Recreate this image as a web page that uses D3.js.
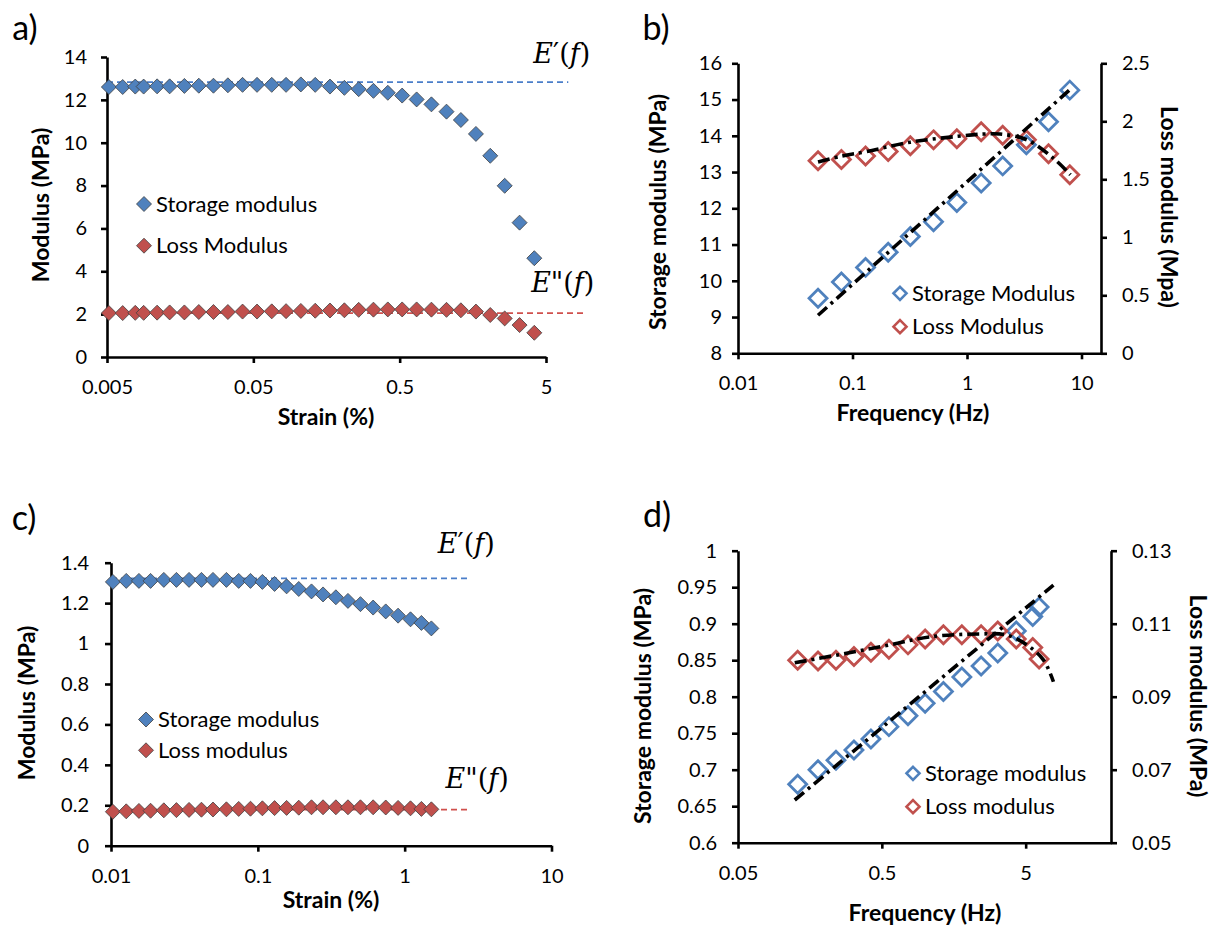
<!DOCTYPE html>
<html>
<head>
<meta charset="utf-8">
<script src="https://cdn.jsdelivr.net/npm/d3@7"></script>
<style>
body { margin: 0; background: #fff; }
text { font-family: Lato, "Open Sans", sans-serif; fill: #000; }
</style>
</head>
<body>
<div id="chart"></div>
<script>
// ---------------- data ----------------
// a) strain sweep, sample 1
const strainA  = [0.00515, 0.0064, 0.0078, 0.0089, 0.011, 0.0134, 0.0169, 0.0212, 0.0267, 0.0335, 0.0422,
                  0.053, 0.0668, 0.0837, 0.1056, 0.1324, 0.167, 0.2095, 0.2625, 0.331, 0.415, 0.52, 0.653,
                  0.824, 1.045, 1.31, 1.66, 2.08, 2.61, 3.30, 4.16]
const storageA = [12.6, 12.6, 12.62, 12.62, 12.63, 12.63, 12.65, 12.66, 12.66, 12.68, 12.7, 12.7, 12.7, 12.7,
                  12.72, 12.7, 12.62, 12.56, 12.5, 12.42, 12.33, 12.2, 12.02, 11.79, 11.45, 11.06, 10.41,
                  9.39, 7.99, 6.27, 4.61]
const lossA    = [2.05, 2.05, 2.06, 2.06, 2.07, 2.08, 2.08, 2.1, 2.1, 2.1, 2.12, 2.12, 2.13, 2.14, 2.15,
                  2.16, 2.17, 2.18, 2.2, 2.21, 2.22, 2.22, 2.22, 2.21, 2.2, 2.18, 2.12, 1.96, 1.8, 1.49, 1.13]
const refLevelA = [12.83, 2.05]
const refEndA   = [7.1, 9.0]

// b) frequency sweep, sample 1
const freqB    = [0.05, 0.08, 0.13, 0.205, 0.32, 0.51, 0.815, 1.33, 2.05, 3.3, 5.15, 7.9]
const storageB = [9.52, 9.97, 10.37, 10.79, 11.22, 11.63, 12.16, 12.7, 13.17, 13.75, 14.39, 15.26]
const lossB    = [1.66, 1.67, 1.70, 1.74, 1.79, 1.84, 1.85, 1.91, 1.88, 1.84, 1.72, 1.54]
const fitStorageB = [[0.05, 9.05], [7.9, 15.27]]
const fitLossB    = [[0.05, 1.65], [0.08, 1.70], [0.133, 1.74], [0.32, 1.82], [0.82, 1.87], [1.39, 1.89],
                     [1.94, 1.89], [3.34, 1.84], [5.7, 1.68], [8.0, 1.54]]

// c) strain sweep, sample 2
const strainC  = [0.0103, 0.0127, 0.0155, 0.0186, 0.0229, 0.0279, 0.034, 0.0413, 0.0495, 0.0611, 0.0741,
                  0.0891, 0.1074, 0.130, 0.157, 0.190, 0.232, 0.278, 0.340, 0.411, 0.500, 0.610, 0.743,
                  0.902, 1.096, 1.30, 1.52]
const storageC = [1.305, 1.31, 1.31, 1.31, 1.315, 1.315, 1.315, 1.315, 1.315, 1.315, 1.31, 1.31, 1.305,
                  1.295, 1.283, 1.27, 1.258, 1.243, 1.229, 1.211, 1.195, 1.178, 1.159, 1.138, 1.12, 1.102, 1.075]
const lossC    = [0.168, 0.17, 0.172, 0.173, 0.175, 0.176, 0.177, 0.178, 0.179, 0.18, 0.182, 0.183, 0.185,
                  0.186, 0.187, 0.188, 0.19, 0.19, 0.19, 0.19, 0.19, 0.19, 0.189, 0.187, 0.185, 0.182, 0.18]
const refLevelC = [1.322, 0.178]
const refEndC   = [2.69, 2.69]

// d) frequency sweep, sample 2
const freqD    = [0.13, 0.18, 0.24, 0.32, 0.42, 0.56, 0.76, 1.0, 1.34, 1.8, 2.45, 3.2, 4.3, 5.6, 6.2]
const storageD = [0.68, 0.70, 0.713, 0.727, 0.742, 0.759, 0.774, 0.791, 0.807, 0.827, 0.842, 0.86, 0.89, 0.91, 0.923]
const lossD    = [0.100, 0.0998, 0.100, 0.101, 0.1022, 0.103, 0.1042, 0.1058, 0.107, 0.107, 0.107, 0.108,
                  0.1058, 0.1035, 0.1003]
const fitStorageD = [[0.124, 0.6585], [7.8, 0.953]]
const fitLossD    = [[0.124, 0.0993], [0.284, 0.1019], [0.569, 0.1042], [1.08, 0.1064], [2.41, 0.1072],
                     [3.7, 0.1069], [5.1, 0.1042], [6.64, 0.1001], [7.8, 0.0941]]

// tick labels
const xTicksA = [0.005, 0.05, 0.5, 5]
const yTicksA = [0, 2, 4, 6, 8, 10, 12, 14]
const xTicksB = [0.01, 0.1, 1, 10]
const yTicksB = [8, 9, 10, 11, 12, 13, 14, 15, 16]
const y2TicksB = [0, 0.5, 1, 1.5, 2, 2.5]
const xTicksC = [0.01, 0.1, 1, 10]
const yTicksC = [0, 0.2, 0.4, 0.6, 0.8, 1, 1.2, 1.4]
const xTicksD = [0.05, 0.5, 5]
const yTicksD = [0.6, 0.65, 0.7, 0.75, 0.8, 0.85, 0.9, 0.95, 1]
const y2TicksD = [0.05, 0.07, 0.09, 0.11, 0.13]

// ----------------------------------------------------------
const blue = "#4F81BD"
const red  = "#C0504D"

const svg = d3.select("#chart")
    .append("svg")
    .attr("width", 1222)
    .attr("height", 926)

const diamond = r => `M0,${-r}L${r},0L0,${r}L${-r},0Z`

function styleAxis(sel) {
    sel.select(".domain").attr("stroke", "#000").attr("stroke-width", 2.6)
    sel.selectAll(".tick line").attr("stroke", "#000").attr("stroke-width", 2.6)
    sel.selectAll(".tick text").attr("font-size", 20).attr("fill", "#000")
        .style("font-family", "Lato, sans-serif")
    sel.attr("font-size", null)
}

function axes(g, p, x, y, y2) {
    g.append("g")
        .attr("transform", `translate(0,${p.yRange[0]})`)
        .call(d3.axisBottom(x).tickValues(p.xTicks).tickFormat(String)
            .tickSizeInner(6).tickSizeOuter(0).tickPadding(17))
        .call(styleAxis)

    g.append("g")
        .attr("transform", `translate(${p.xRange[0]},0)`)
        .call(d3.axisLeft(y).tickValues(p.yTicks).tickFormat(String)
            .tickSizeInner(6).tickSizeOuter(0).tickPadding(p.padL))
        .call(styleAxis)

    if (y2) {
        g.append("g")
            .attr("transform", `translate(${p.xRange[1]},0)`)
            .call(d3.axisRight(y2).tickValues(p.y2Ticks).tickFormat(String)
                .tickSizeInner(6).tickSizeOuter(0).tickPadding(p.padR))
            .call(styleAxis)
    }

    // axis titles
    g.append("text")
        .text(p.xTitle)
        .attr("x", p.xTitlePos[0]).attr("y", p.xTitlePos[1])
        .attr("text-anchor", "middle").attr("dy", "0.35em")
        .attr("font-size", 23).attr("font-weight", "bold")

    g.append("text")
        .text(p.yTitle)
        .attr("transform", `translate(${p.yTitlePos[0]},${p.yTitlePos[1]}) rotate(-90)`)
        .attr("text-anchor", "middle").attr("dy", "0.35em")
        .attr("font-size", 23).attr("font-weight", "bold")

    if (p.y2Title) {
        g.append("text")
            .text(p.y2Title)
            .attr("transform", `translate(${p.y2TitlePos[0]},${p.y2TitlePos[1]}) rotate(90)`)
            .attr("text-anchor", "middle").attr("dy", "0.35em")
            .attr("font-size", 23).attr("font-weight", "bold")
    }

    g.append("text")
        .text(p.tag)
        .attr("x", p.tagPos[0]).attr("y", p.tagPos[1])
        .attr("text-anchor", "middle").attr("dy", "0.35em")
        .attr("font-size", 34)
}

function legend(g, items, pos, filled) {
    items.forEach((it, i) => {
        const yy = pos[1] + i * pos[2]
        g.append("path")
            .attr("d", diamond(filled ? 7.5 : 6.5))
            .attr("transform", `translate(${pos[0]},${yy})`)
            .attr("fill", filled ? it.color : "none")
            .attr("stroke", filled ? "#404040" : it.color)
            .attr("stroke-width", filled ? 0.8 : 2.6)
        g.append("text")
            .text(it.name)
            .attr("x", pos[0] + 12).attr("y", yy)
            .attr("dy", "0.35em")
            .attr("font-size", 22)
            .attr("fill", "#222")
    })
}

function eLabel(g, x, y, primes) {
    const t = g.append("text")
        .attr("x", x).attr("y", y)
        .attr("text-anchor", "end")
        .attr("font-size", 27)
        .style("font-family", "'DejaVu Serif', 'Liberation Serif', serif")
    t.append("tspan").attr("font-style", "italic").text("E")
    t.append("tspan").text(primes + "(")
    t.append("tspan").attr("font-style", "italic").text("f")
    t.append("tspan").text(")")
}

// ---------- strain sweep panels (a, c) ----------
function strainPanel(p) {
    const g = svg.append("g")
    const x = d3.scaleLog().domain(p.xDomain).range(p.xRange)
    const y = d3.scaleLinear().domain(p.yDomain).range(p.yRange)

    // E'(f), E"(f) reference lines
    p.refLevel.forEach((lv, i) => {
        g.append("line")
            .attr("x1", x(p.xDomain[0])).attr("x2", x(p.refEnd[i]))
            .attr("y1", y(lv)).attr("y2", y(lv))
            .attr("stroke", i == 0 ? "#4A7EC9" : "#D0504D")
            .attr("stroke-width", 1.8)
            .attr("stroke-dasharray", "6,4")
    })

    axes(g, p, x, y, null)

    const series = [
        {vals: p.storage, color: blue},
        {vals: p.loss, color: red}
    ]
    series.forEach(s => {
        g.append("g").selectAll("path")
            .data(p.strain.map((d, i) => [d, s.vals[i]]))
            .join("path")
            .attr("d", diamond(7.5))
            .attr("transform", d => `translate(${x(d[0])},${y(d[1])})`)
            .attr("fill", s.color)
            .attr("stroke", "#404040")
            .attr("stroke-width", 0.8)
    })

    eLabel(g, x(p.refEnd[0]) + p.lab1[0], y(p.refLevel[0]) - p.lab1[1], "\u2032")
    eLabel(g, x(p.refEnd[1]) + p.lab2[0], y(p.refLevel[1]) - p.lab2[1], "\"")

    legend(g, [{name: "Storage modulus", color: blue}, {name: p.lossName, color: red}], p.legendPos, true)
}

// ---------- frequency sweep panels (b, d) ----------
function freqPanel(p) {
    const g = svg.append("g")
    const x  = d3.scaleLog().domain(p.xDomain).range(p.xRange)
    const y  = d3.scaleLinear().domain(p.yDomain).range(p.yRange)
    const y2 = d3.scaleLinear().domain(p.y2Domain).range(p.yRange)

    axes(g, p, x, y, y2)

    const series = [
        {vals: p.storage, color: blue, sc: y},
        {vals: p.loss, color: red, sc: y2}
    ]
    series.forEach(s => {
        g.append("g").selectAll("path")
            .data(p.freq.map((d, i) => [d, s.vals[i]]))
            .join("path")
            .attr("d", diamond(9))
            .attr("transform", d => `translate(${x(d[0])},${s.sc(d[1])})`)
            .attr("fill", "none")
            .attr("stroke", s.color)
            .attr("stroke-width", 2.8)
    })

    const fits = [{pts: p.fitStorage, sc: y}, {pts: p.fitLoss, sc: y2}]
    fits.forEach(f => {
        g.append("path")
            .attr("d", d3.line().x(d => x(d[0])).y(d => f.sc(d[1])).curve(d3.curveCatmullRom)(f.pts))
            .attr("fill", "none")
            .attr("stroke", "#000")
            .attr("stroke-width", 3.6)
            .attr("stroke-dasharray", "12,5,3,5")
    })

    legend(g, [{name: "Storage " + p.modWord, color: blue}, {name: "Loss " + p.modWord, color: red}], p.legendPos, false)
}

strainPanel({
    strain: strainA, storage: storageA, loss: lossA,
    refLevel: refLevelA, refEnd: refEndA,
    xDomain: [0.005, 5], xRange: [107, 546],
    yDomain: [0, 14], yRange: [357, 57],
    xTicks: xTicksA, yTicks: yTicksA, padL: 14,
    xTitle: "Strain (%)", xTitlePos: [326, 417],
    yTitle: "Modulus (MPa)", yTitlePos: [41, 205],
    tag: "a)", tagPos: [25, 28],
    lab1: [22, 19], lab2: [11, 21],
    lossName: "Loss Modulus",
    legendPos: [144, 204, 41.7]
})

freqPanel({
    freq: freqB, storage: storageB, loss: lossB,
    fitStorage: fitStorageB, fitLoss: fitLossB,
    xDomain: [0.01, 14.8], xRange: [738, 1101],
    yDomain: [8, 16], y2Domain: [0, 2.5], yRange: [353.3, 63.3],
    xTicks: xTicksB, yTicks: yTicksB, y2Ticks: y2TicksB, padL: 10, padR: 15,
    xTitle: "Frequency (Hz)", xTitlePos: [913, 413],
    yTitle: "Storage modulus (MPa)", yTitlePos: [658, 212],
    y2Title: "Loss modulus (Mpa)", y2TitlePos: [1169, 207],
    tag: "b)", tagPos: [656, 28],
    modWord: "Modulus",
    legendPos: [900, 293.3, 33.4]
})

strainPanel({
    strain: strainC, storage: storageC, loss: lossC,
    refLevel: refLevelC, refEnd: refEndC,
    xDomain: [0.01, 10], xRange: [111, 551.5],
    yDomain: [0, 1.4], yRange: [845.7, 562.7],
    xTicks: xTicksC, yTicks: yTicksC, padL: 16,
    xTitle: "Strain (%)", xTitlePos: [331, 900],
    yTitle: "Modulus (MPa)", yTitlePos: [27, 703],
    tag: "c)", tagPos: [24, 518],
    lab1: [27, 25], lab2: [41, 22],
    lossName: "Loss modulus",
    legendPos: [146, 719.5, 30.8]
})

freqPanel({
    freq: freqD, storage: storageD, loss: lossD,
    fitStorage: fitStorageD, fitLoss: fitLossD,
    xDomain: [0.05, 19.6], xRange: [738, 1111],
    yDomain: [0.6, 1], y2Domain: [0.05, 0.13], yRange: [842.7, 550.7],
    xTicks: xTicksD, yTicks: yTicksD, y2Ticks: y2TicksD, padL: 15, padR: 15,
    xTitle: "Frequency (Hz)", xTitlePos: [925, 913],
    yTitle: "Storage modulus (MPa)", yTitlePos: [643, 706],
    y2Title: "Loss modulus (MPa)", y2TitlePos: [1198, 696],
    tag: "d)", tagPos: [657, 515],
    modWord: "modulus",
    legendPos: [913, 773.3, 33.4]
})
</script>
</body>
</html>
